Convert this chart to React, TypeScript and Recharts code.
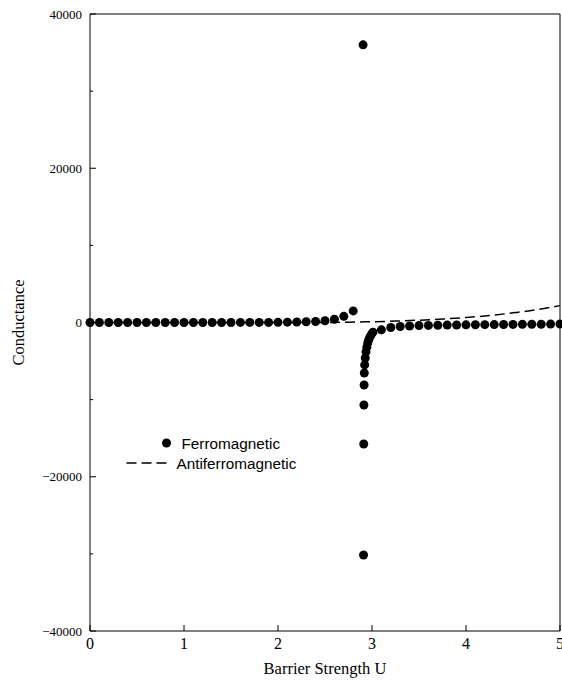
import { ComposedChart, Legend, Line, Scatter, XAxis, YAxis } from 'recharts'

const serif = '"Liberation Serif", "Times New Roman", serif'
const sans = '"Liberation Sans", Arial, sans-serif'

// Ferromagnetic: conductance vs barrier strength U
const ferroU = [
  0, 0.1, 0.2, 0.3, 0.4, 0.5, 0.6, 0.7, 0.8, 0.9, 1.0, 1.1, 1.2, 1.3, 1.4, 1.5, 1.6, 1.7, 1.8, 1.9,
  2.0, 2.1, 2.2, 2.3, 2.4, 2.5, 2.6, 2.7, 2.8, 2.905,
  2.91, 2.912, 2.914, 2.916, 2.918, 2.922, 2.928, 2.936, 2.945, 2.955, 2.965, 2.978, 2.995, 3.01,
  3.1, 3.2, 3.3, 3.4, 3.5, 3.6, 3.7, 3.8, 3.9, 4.0, 4.1, 4.2, 4.3, 4.4, 4.5, 4.6, 4.7, 4.8, 4.9, 5.0,
]
const ferroG = [
  0, 0, 0, 0, 0, 0, 0, 0, 0, 0, 0, 0, 0, 0, 5, 5, 10, 10, 15, 15,
  20, 40, 60, 90, 130, 220, 420, 800, 1500, 36000,
  -30150, -15760, -10700, -8100, -6550, -5500, -4600, -3800, -3200, -2650, -2250, -1880, -1500, -1250,
  -950, -650, -520, -450, -400, -380, -360, -340, -320, -300, -290, -280, -270, -260, -250, -240, -230, -220, -210, -200,
]

// Antiferromagnetic
const antiU = [0, 0.5, 1.0, 1.5, 2.0, 2.5, 2.75, 3.0, 3.25, 3.5, 3.75, 4.0, 4.25, 4.5, 4.75, 5.0]
const antiG = [0, 0, 0, 0, 0, 10, 40, 100, 180, 300, 450, 650, 900, 1250, 1650, 2200]

const xTicks = [0, 1, 2, 3, 4, 5]
const yTicks = [-40000, -30000, -20000, -10000, 0, 10000, 20000, 30000, 40000]

const ferro = ferroU.map((x, i) => ({ x, y: ferroG[i] }))
const anti = antiU.map((x, i) => ({ x, y: antiG[i] }))

const fmtY = (v: number) => (v < 0 ? `\u2212${Math.abs(v)}` : `${v}`)

function LeftTick({ x, y, payload }: any) {
  const major = payload.value % 20000 === 0
  return (
    <g>
      <line x1={x} x2={x + (major ? 6 : 3)} y1={y} y2={y} stroke="#000" />
      {major && (
        <text x={x - 8} y={y} textAnchor="end" dominantBaseline="central" fontSize={13} fontFamily={serif} fill="#000">
          {fmtY(payload.value)}
        </text>
      )}
    </g>
  )
}

function RightTick({ x, y, payload }: any) {
  const major = payload.value % 20000 === 0
  return <line x1={x} x2={x - (major ? 6 : 3)} y1={y} y2={y} stroke="#000" />
}

function BottomTick({ x, y, payload }: any) {
  return (
    <g>
      <line x1={x} x2={x} y1={y} y2={y - 6} stroke="#000" />
      <text x={x} y={y + 7} dy="0.71em" textAnchor="middle" fontSize={16} fontFamily={serif} fill="#000">
        {payload.value}
      </text>
    </g>
  )
}

function TopTick({ x, y }: any) {
  return <line x1={x} x2={x} y1={y} y2={y + 6} stroke="#000" />
}

function LegendBox() {
  return (
    <svg width={220} height={50} style={{ display: 'block' }}>
      <circle cx={46.5} cy={13} r={4.5} fill="#000" />
      <text x={61.5} y={13} dominantBaseline="central" fontSize={15.3} fontFamily={sans} fill="#000">
        Ferromagnetic
      </text>
      <line x1={6.5} x2={46.5} y1={33} y2={33} stroke="#000" strokeWidth={1.5} strokeDasharray="10 5" />
      <text x={56.5} y={33} dominantBaseline="central" fontSize={15.3} fontFamily={sans} fill="#000">
        Antiferromagnetic
      </text>
    </svg>
  )
}

export default function App() {
  return (
    <div style={{ position: 'absolute', left: 0, top: 0, background: '#fff' }}>
      <ComposedChart width={562} height={683} margin={{ top: 0, right: 0, bottom: 0, left: 0 }}>
        <XAxis
          dataKey="x"
          type="number"
          domain={[0, 5]}
          ticks={xTicks}
          interval={0}
          height={52}
          stroke="#000"
          tickLine={false}
          tickSize={0}
          tickMargin={0}
          tick={BottomTick}
          label={{ value: 'Barrier Strength U', position: 'insideBottom', offset: 9, style: { fontSize: 16.5, fontFamily: serif, fill: '#000' } }}
        />
        <XAxis
          xAxisId="t"
          orientation="top"
          dataKey="x"
          type="number"
          domain={[0, 5]}
          ticks={xTicks}
          interval={0}
          height={14}
          stroke="#000"
          tickLine={false}
          tickSize={0}
          tickMargin={0}
          tick={TopTick}
        />
        <YAxis
          type="number"
          domain={[-40000, 40000]}
          ticks={yTicks}
          interval={0}
          width={90}
          stroke="#000"
          tickLine={false}
          tickSize={0}
          tickMargin={0}
          tick={LeftTick}
          label={{ value: 'Conductance', angle: -90, position: 'insideLeft', offset: 18, style: { textAnchor: 'middle', fontSize: 16.5, fontFamily: serif, fill: '#000' } }}
        />
        <YAxis
          yAxisId="r"
          orientation="right"
          type="number"
          domain={[-40000, 40000]}
          ticks={yTicks}
          interval={0}
          width={2}
          stroke="#000"
          tickLine={false}
          tickSize={0}
          tickMargin={0}
          tick={RightTick}
        />
        <Legend
          layout="vertical"
          align="center"
          verticalAlign="middle"
          content={() => <LegendBox />}
          wrapperStyle={{ left: 120, top: 430, width: 220 }}
        />
        <Line
          data={anti}
          dataKey="y"
          type="monotone"
          stroke="#000"
          strokeWidth={1.5}
          strokeDasharray="10 5"
          dot={false}
          activeDot={false}
          isAnimationActive={false}
        />
        <Scatter
          data={ferro}
          dataKey="y"
          fill="#000"
          shape={(p: any) => <circle cx={p.cx} cy={p.cy} r={4.5} fill="#000" />}
          isAnimationActive={false}
        />
      </ComposedChart>
    </div>
  )
}
